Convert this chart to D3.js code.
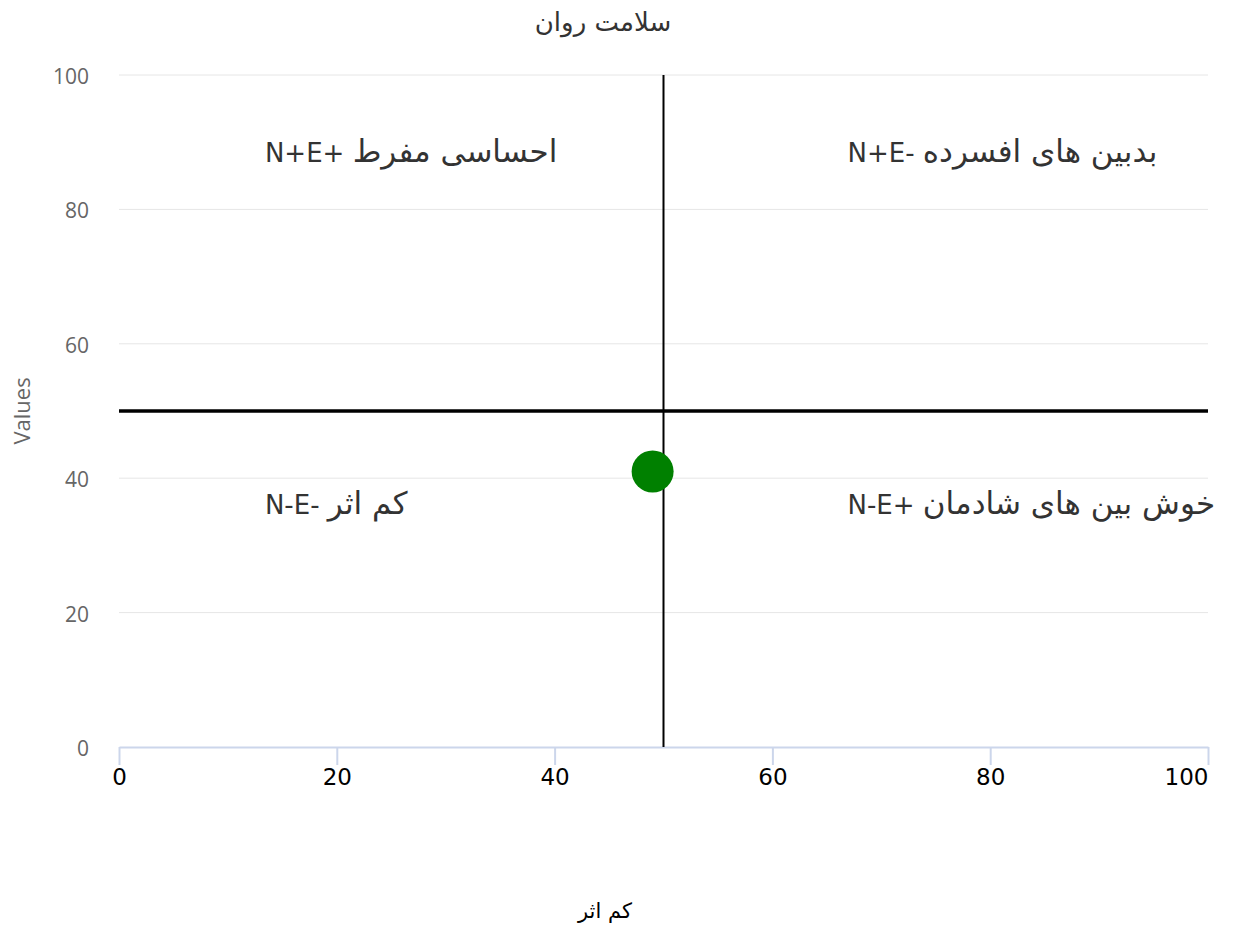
<!DOCTYPE html>
<html>
<head>
<meta charset="utf-8">
<script src="https://cdn.jsdelivr.net/npm/d3@7"></script>
<style>
  body { margin: 0; background: #fff; }
  svg text { font-family: "DejaVu Sans", Verdana, sans-serif; }
</style>
</head>
<body>
<svg id="chart" width="1239" height="932"></svg>
<script>
// ---------------- data ----------------
var chartTitle = "سلامت روان"
var xTitle = "کم اثر"
var yTitle = "Values"

var xTicks = [0, 20, 40, 60, 80, 100]
var yTicks = [0, 20, 40, 60, 80, 100]

// the single scatter point
var pointX = [49]
var pointY = [41]

// quadrant divider values
var xDivide = 50
var yDivide = 50

// quadrant labels (code + name) and where they sit (in data units)
var quadCodes = ["N+E+", "N+E-", "N-E-", "N-E+"]
var quadNames = ["احساسی مفرط", "بدبین های افسرده", "کم اثر", "خوش بین های شادمان"]
var quadX = [13.4, 66.9, 13.4, 66.9]
var quadY = [87, 87, 34.6, 34.6]

// ---------------- setup ----------------
var svg = d3.select("#chart")
var margin = { top: 75, right: 31, bottom: 185, left: 119 },
    width = 1239 - margin.left - margin.right,
    height = 932 - margin.top - margin.bottom

var x = d3.scaleLinear().domain([0, 100]).range([0, width])
var y = d3.scaleLinear().domain([0, 100]).range([height, 0])

var g = svg.append("g")
    .attr("transform", "translate(" + margin.left + "," + margin.top + ")")

// gridlines
g.selectAll(".grid")
    .data(yTicks.filter(function (d) { return d > 0 }))
    .enter()
    .append("line")
    .attr("x1", 0)
    .attr("x2", width)
    .attr("y1", function (d) { return y(d) })
    .attr("y2", function (d) { return y(d) })
    .attr("stroke", "#e6e6e6")
    .attr("stroke-width", 1)

// y axis labels (no line)
var yAxis = d3.axisLeft(y).tickValues(yTicks).tickSize(0).tickPadding(30)
g.append("g")
    .call(yAxis)
    .call(function (s) { s.select(".domain").remove() })
    .selectAll("text")
    .attr("fill", "#666")
    .attr("dy", "0.4em")
    .style("font-size", "21px")
    .style("font-family", "'Open Sans', sans-serif")

// x axis
var xAxis = d3.axisBottom(x).tickValues(xTicks).tickSize(18).tickSizeOuter(0).tickPadding(4)
var xg = g.append("g")
    .attr("transform", "translate(0," + height + ")")
    .call(xAxis)
xg.select(".domain").attr("stroke", "#ccd6eb").attr("stroke-width", 2)
xg.selectAll(".tick line").attr("stroke", "#ccd6eb").attr("stroke-width", 2)
xg.selectAll("text")
    .attr("fill", "#000")
    .style("font-size", "23px")
    .style("font-family", "'DejaVu Sans', sans-serif")
    .attr("text-anchor", function (d) { return d === 100 ? "end" : "middle" })

// quadrant dividers
g.append("line")
    .attr("x1", x(xDivide)).attr("x2", x(xDivide))
    .attr("y1", y(100)).attr("y2", y(0))
    .attr("stroke", "#000").attr("stroke-width", 2)

g.append("line")
    .attr("x1", 0).attr("x2", width)
    .attr("y1", y(yDivide)).attr("y2", y(yDivide))
    .attr("stroke", "#000").attr("stroke-width", 3.5)

// quadrant labels
var ql = g.selectAll(".quad")
    .data(quadCodes)
    .enter()
    .append("text")
    .attr("x", function (d, i) { return x(quadX[i]) })
    .attr("y", function (d, i) { return y(quadY[i]) })
    .attr("direction", "ltr")
    .attr("fill", "#333")
ql.append("tspan")
    .style("font-size", "26px")
    .text(function (d) { return d + " " })
ql.append("tspan")
    .style("font-size", "31px")
    .text(function (d, i) { return quadNames[i] })

// point
g.selectAll(".pt")
    .data(pointX)
    .enter()
    .append("circle")
    .attr("cx", function (d) { return x(d) })
    .attr("cy", function (d, i) { return y(pointY[i]) })
    .attr("r", 21)
    .attr("fill", "#008000")

// titles
svg.append("text")
    .attr("x", 603)
    .attr("y", 31)
    .attr("text-anchor", "middle")
    .attr("fill", "#333")
    .style("font-size", "26px")
    .text(chartTitle)

svg.append("text")
    .attr("x", 605)
    .attr("y", 918)
    .attr("text-anchor", "middle")
    .attr("fill", "#000")
    .style("font-size", "21px")
    .text(xTitle)

svg.append("text")
    .attr("transform", "translate(30," + (margin.top + y(50)) + ") rotate(-90)")
    .attr("text-anchor", "middle")
    .attr("fill", "#666")
    .style("font-size", "22px")
    .style("font-family", "'Open Sans', sans-serif")
    .text(yTitle)
</script>
</body>
</html>
